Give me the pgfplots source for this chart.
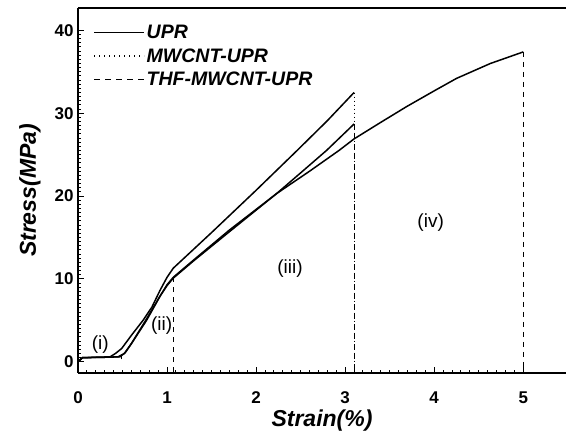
\documentclass[border=0pt]{standalone}
\usepackage{fontspec}
\setmainfont{Liberation Sans}
\usepackage{pgfplots}
\pgfplotsset{compat=1.18}
\begin{document}
\begin{tikzpicture}
\begin{axis}[
  at={(0,0)}, anchor=south west,
  scale only axis, width=488pt, height=365pt,
  xmin=0, xmax=5.48, ymin=-1.35, ymax=42.7,
  axis x line*=bottom, axis y line*=left,
  axis line style={line width=1.6pt, -},
  xtick={0,1,2,3,4,5}, ytick={0,10,20,30,40},
  minor x tick num=9, minor y tick num=19,
  tick align=inside,
  major tick length=6pt, minor tick length=3pt,
  tick style={line width=1pt, black},
  /pgf/number format/assume math mode=true,
  tick label style={font=\bfseries\fontsize{17}{17}\selectfont},
  xticklabel style={yshift=-15pt},
  yticklabel style={xshift=-1pt},
  xlabel={Strain(\%)}, ylabel={Stress(MPa)},
  xlabel style={at={(axis description cs:0.5,-0.1315)}, anchor=center,
    font=\bfseries\itshape\fontsize{23}{23}\selectfont},
  ylabel style={at={(axis description cs:-0.0984,0.5)}, anchor=center,
    font=\bfseries\itshape\fontsize{23}{23}\selectfont},
  legend image code/.code={\draw[#1] (0pt,0pt) -- (50pt,0pt);},
  legend style={draw=none, fill=none, at={(0.025,0.965)}, anchor=north west,
    font=\bfseries\itshape\fontsize{19.5}{19.5}\selectfont, row sep=4.5pt,
    cells={anchor=west}},
]
\addlegendimage{black, line width=1.3pt}
\addlegendentry{UPR}
\addlegendimage{black, line width=1.3pt, dash pattern=on 1pt off 4pt}
\addlegendentry{MWCNT-UPR}
\addlegendimage{black, line width=1.3pt, dash pattern=on 6pt off 5pt}
\addlegendentry{THF-MWCNT-UPR}

% MWCNT-UPR
\addplot[black, line width=1.5pt, forget plot] coordinates {
(0,0) (0.05,0.5) (0.2,0.55) (0.36,0.6) (0.42,1.0) (0.49,1.6) (0.6,3.2) (0.73,5.0)
(0.83,6.6) (0.92,8.6) (1.0,10.2) (1.07,11.3) (1.2,12.6) (1.5,15.6) (2.0,20.7)
(2.46,25.5) (2.8,29.1) (3.1,32.5)};
% THF-MWCNT-UPR
\addplot[black, line width=1.5pt, forget plot] coordinates {
(0,0) (0.05,0.5) (0.3,0.55) (0.45,0.6) (0.52,1.0) (0.6,2.2) (0.77,5.0) (0.92,7.9)
(1.0,9.2) (1.07,10.1) (1.3,12.2) (1.7,15.7) (2.23,20.3) (2.5,22.8) (2.79,25.5) (3.1,28.7)};
% UPR
\addplot[black, line width=1.5pt, forget plot] coordinates {
(0,0) (0.05,0.5) (0.3,0.55) (0.47,0.6) (0.53,1.1) (0.6,2.2) (0.76,5.0) (0.92,7.9)
(1.0,9.3) (1.07,10.2) (1.3,12.3) (1.7,15.9) (2.23,20.3) (2.6,23.0) (2.93,25.5)
(3.1,26.9) (3.4,28.9) (3.69,30.8) (4.0,32.7) (4.25,34.2) (4.63,36.0) (5.0,37.4)};

% failure / region lines
\addplot[black, line width=0.9pt, dash pattern=on 1pt off 3pt, forget plot] coordinates {(3.1,32.5) (3.1,-1.35)};
\addplot[black, line width=0.9pt, dash pattern=on 5pt off 5pt, forget plot] coordinates {(3.1,28.7) (3.1,-1.35)};
\addplot[black, line width=0.9pt, dash pattern=on 5pt off 5pt, forget plot] coordinates {(5.0,37.4) (5.0,-1.35)};
\addplot[black, line width=0.9pt, dash pattern=on 5pt off 5pt, forget plot] coordinates {(1.07,10.2) (1.07,-1.35)};
\addplot[black, line width=0.9pt, forget plot] coordinates {(0.49,0.3) (0.49,1.0)};

\node[font=\fontsize{19}{19}\selectfont] at (axis cs:0.25,2.1) {(i)};
\node[font=\fontsize{19}{19}\selectfont] at (axis cs:0.94,4.4) {(ii)};
\node[font=\fontsize{19}{19}\selectfont] at (axis cs:2.38,11.3) {(iii)};
\node[font=\fontsize{19}{19}\selectfont] at (axis cs:3.96,16.8) {(iv)};

\draw[line width=1.6pt] (rel axis cs:0,1) -- (rel axis cs:1,1);
\end{axis}
\pgfresetboundingbox
\path[use as bounding box] (-78pt,-65pt) rectangle (488pt,373pt);
\end{tikzpicture}
\end{document}
